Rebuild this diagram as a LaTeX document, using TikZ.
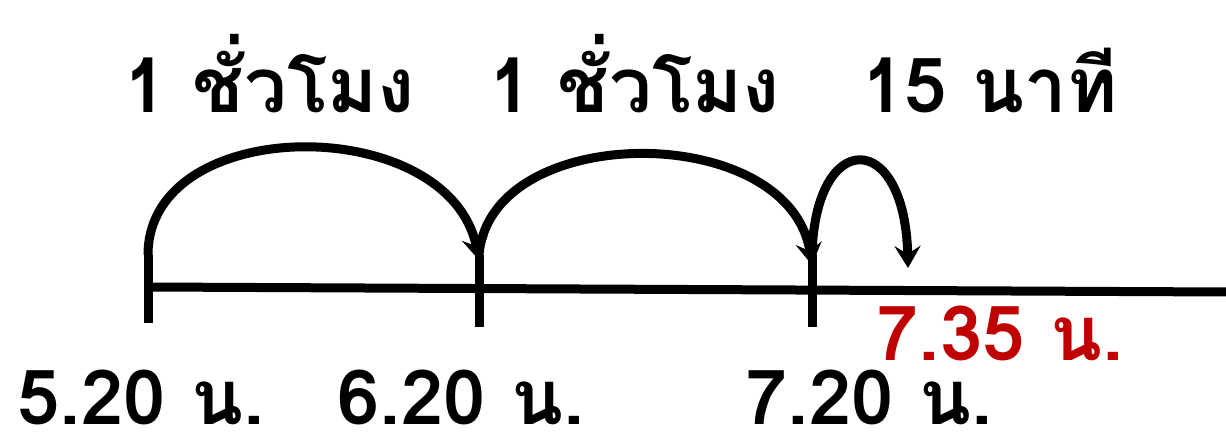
\documentclass[tikz,border=0pt]{standalone}
\usepackage{fontspec}
\newfontfamily\thaifont[Script=Thai]{Loma}
\usetikzlibrary{arrows.meta,positioning}
\definecolor{timered}{HTML}{C00000}

\begin{document}
\begin{tikzpicture}[x=1pt, y=1pt,
  lbl/.style={font=\thaifont\bfseries\fontsize{76}{80}\selectfont, inner sep=0pt, text depth=0pt, anchor=base},
  jump/.style={line width=9pt, -{Stealth[length=22pt, width=26pt, inset=8pt]}},
  tick/.style={line width=9pt}]
  \useasboundingbox (0,0) rectangle (1226,433);
  % number line
  \coordinate (start) at (148,146);
  \coordinate (lineend) at (1226,141);
  \draw[tick] (start) -- (lineend);
  % tick marks
  \coordinate (t1) at (148,178); \coordinate (b1) at (148,110);
  \coordinate (t2) at (479,178); \coordinate (b2) at (479,106);
  \coordinate (t3) at (812,178); \coordinate (b3) at (812,106);
  \coordinate (tip3) at (908,165);
  \draw[tick] (t1) -- (b1); \draw[tick] (t2) -- (b2); \draw[tick] (t3) -- (b3);
  % jumps
  \draw[jump] (t1) .. controls (148,321) and (450,321) .. ([yshift=-5pt]t2);
  \draw[jump] (t2) .. controls (490,313) and (790,313) .. ([yshift=-10pt]t3);
  \draw[jump] (t3) .. controls (815,305) and (905,305) .. (tip3);
  % labels
  \node[lbl] (h1) at (270,320) {1 ชั่วโมง};
  \node[lbl] (h2) at (635,320) {1 ชั่วโมง};
  \node[lbl] (m15) at (990,320) {15 นาที};
  \node[lbl] (tA) at (141,8) {5.20 น.};
  \node[lbl] (tB) at (461,8) {6.20 น.};
  \node[lbl] (tC) at (869,8) {7.20 น.};
  \node[lbl, text=timered] (tD) at (1000,72) {7.35 น.};
\end{tikzpicture}
\end{document}
